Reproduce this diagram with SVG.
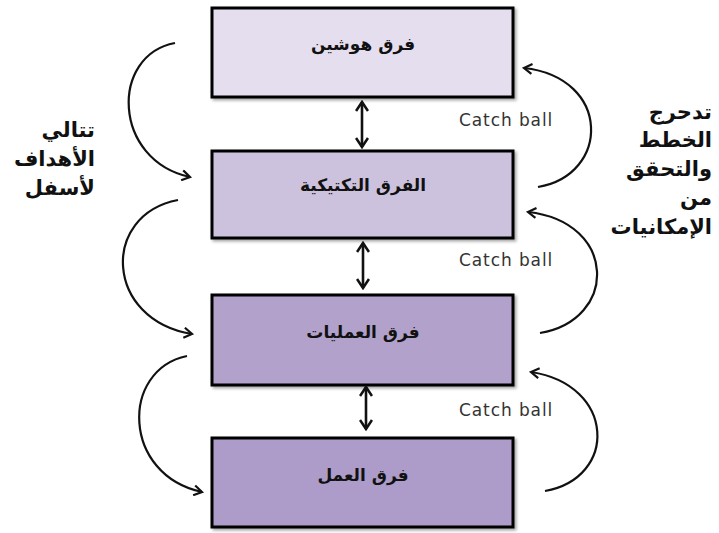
<svg xmlns="http://www.w3.org/2000/svg" width="719" height="533" viewBox="0 0 719 533">
<style>
.box{stroke:#000;stroke-width:3}
.lbl{font-family:"DejaVu Sans",sans-serif;font-weight:bold;font-size:17px;fill:#111;text-anchor:middle}
.side{font-family:"DejaVu Sans",sans-serif;font-weight:bold;font-size:21px;fill:#111;text-anchor:end}
.cb{font-family:"DejaVu Sans",sans-serif;font-size:17px;letter-spacing:0.9px;fill:#333}
.arc{fill:none;stroke:#111;stroke-width:2.2}
.dbl{fill:none;stroke:#111;stroke-width:2.6}
</style>
<defs>
<marker id="open" markerWidth="12" markerHeight="12" refX="10" refY="6" orient="auto" markerUnits="userSpaceOnUse">
<polyline points="2,1 10,6 2,11" fill="none" stroke="#111" stroke-width="2.2"/>
</marker>
<marker id="dh" markerWidth="14" markerHeight="14" refX="12" refY="7" orient="auto-start-reverse" markerUnits="userSpaceOnUse">
<polyline points="3,1 12,7 3,13" fill="none" stroke="#111" stroke-width="2.6"/>
</marker>
<filter id="sh" x="-5%" y="-5%" width="115%" height="120%">
<feDropShadow dx="2" dy="2" stdDeviation="1.5" flood-color="#000" flood-opacity="0.35"/>
</filter>
</defs>
<g id="node-hoshin"><rect class="box" x="212" y="8" width="301" height="89" fill="#e5deee" filter="url(#sh)"/><text class="lbl" x="363" y="50">فرق هوشين</text></g>
<g id="node-tactical"><rect class="box" x="212" y="151" width="301" height="87" fill="#cdc2de" filter="url(#sh)"/><text class="lbl" x="363" y="191">الفرق التكتيكية</text></g>
<g id="node-operations"><rect class="box" x="212" y="295" width="301" height="90" fill="#b2a2cb" filter="url(#sh)"/><text class="lbl" x="363" y="338">فرق العمليات</text></g>
<g id="node-work"><rect class="box" x="212" y="438" width="301" height="89" fill="#ad9cc9" filter="url(#sh)"/><text class="lbl" x="363" y="481">فرق العمل</text></g>
<g id="connectors">
<line class="dbl" x1="362" y1="102" x2="362" y2="147" marker-start="url(#dh)" marker-end="url(#dh)"/>
<line class="dbl" x1="363" y1="243" x2="363" y2="288" marker-start="url(#dh)" marker-end="url(#dh)"/>
<line class="dbl" x1="366" y1="387" x2="366" y2="429" marker-start="url(#dh)" marker-end="url(#dh)"/>
<path class="arc" d="M175,43 C110,55 112,160 190,177" marker-end="url(#open)"/>
<path class="arc" d="M178,200 C100,215 105,320 192,334" marker-end="url(#open)"/>
<path class="arc" d="M187,356 C120,370 122,475 202,492" marker-end="url(#open)"/>
<path class="arc" d="M538,187 C610,175 612,78 524,68" marker-end="url(#open)"/>
<path class="arc" d="M540,333 C618,320 618,222 528,212" marker-end="url(#open)"/>
<path class="arc" d="M545,491 C618,478 616,385 531,372" marker-end="url(#open)"/>
</g>
<g id="labels">
<text class="cb" x="459" y="126">Catch ball</text>
<text class="cb" x="459" y="266">Catch ball</text>
<text class="cb" x="459" y="416">Catch ball</text>
<text class="side" x="95" y="137">تتالي</text>
<text class="side" x="95" y="166">الأهداف</text>
<text class="side" x="95" y="195">لأسفل</text>
<text class="side" x="712" y="119">تدحرج</text>
<text class="side" x="712" y="147">الخطط</text>
<text class="side" x="712" y="176">والتحقق</text>
<text class="side" x="712" y="205">من</text>
<text class="side" x="712" y="234">الإمكانيات</text>
</g>
</svg>
